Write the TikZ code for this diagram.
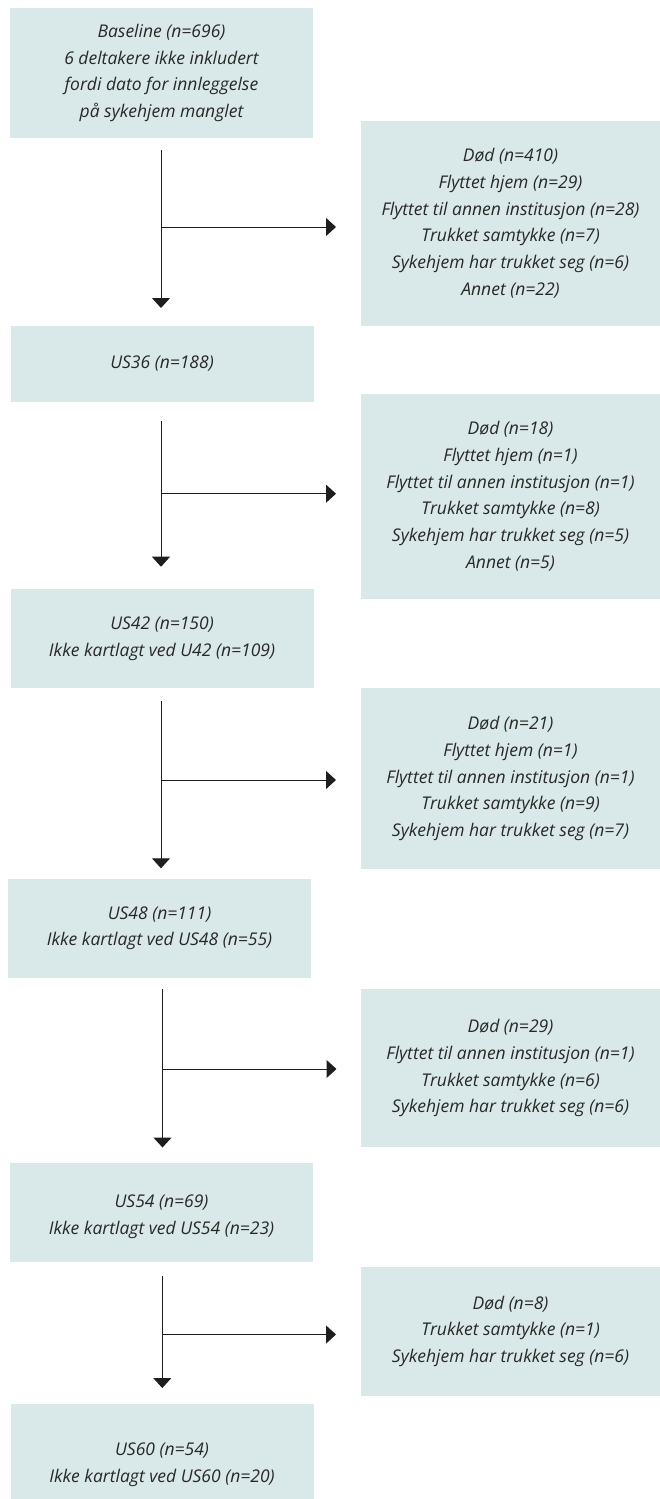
\documentclass[tikz,border=0pt]{standalone}
\usepackage{fontspec}
\setmainfont{Open Sans}
\usetikzlibrary{arrows.meta}
\definecolor{boxfill}{RGB}{217,232,232}
\definecolor{txt}{RGB}{40,40,40}
\definecolor{arr}{RGB}{30,30,30}
\tikzset{
  x=1pt, y=-1pt,
  flowbox/.style={rectangle, fill=boxfill, inner sep=0pt, align=center, text=txt,
    font=\fontsize{17.5}{26.7}\selectfont\itshape},
  leftbox/.style={flowbox, minimum width=303pt},
  rightbox/.style={flowbox, minimum width=299pt},
  flowarrow/.style={draw=arr, line width=1pt, -{Triangle[width=18pt,length=10pt]}}
}
\begin{document}
\begin{tikzpicture}
\clip (0,0) rectangle (660,1499);
\fill[white] (0,0) rectangle (660,1499);

\node[leftbox, minimum height=129.7pt] (b0) at (161.5,72.9) {Baseline (n=696)\\6 deltakere ikke inkludert\\fordi dato for innleggelse\\på sykehjem manglet};
\node[rightbox, minimum height=205pt] (r1) at (510.5,223.2) {Død (n=410)\\Flyttet hjem (n=29)\\Flyttet til annen institusjon (n=28)\\Trukket samtykke (n=7)\\Sykehjem har trukket seg (n=6)\\Annet (n=22)};
\node[leftbox, minimum height=75.7pt] (b1) at (162,363.9) {US36 (n=188)};
\node[rightbox, minimum height=204.5pt] (r2) at (510.5,496.3) {Død (n=18)\\Flyttet hjem (n=1)\\Flyttet til annen institusjon (n=1)\\Trukket samtykke (n=8)\\Sykehjem har trukket seg (n=5)\\Annet (n=5)};
\node[leftbox, minimum height=98.7pt] (b2) at (162,638.4) {US42 (n=150)\\Ikke kartlagt ved U42 (n=109)};
\node[rightbox, minimum height=181.6pt] (r3) at (510.5,778.5) {Død (n=21)\\Flyttet hjem (n=1)\\Flyttet til annen institusjon (n=1)\\Trukket samtykke (n=9)\\Sykehjem har trukket seg (n=7)};
\node[leftbox, minimum height=98.5pt] (b3) at (159.5,928.3) {US48 (n=111)\\Ikke kartlagt ved US48 (n=55)};
\node[rightbox, minimum height=158.3pt] (r4) at (510.5,1068.2) {Død (n=29)\\Flyttet til annen institusjon (n=1)\\Trukket samtykke (n=6)\\Sykehjem har trukket seg (n=6)};
\node[leftbox, minimum height=107pt] (b4) at (161.5,1216.5) {US54 (n=69)\\Ikke kartlagt ved US54 (n=23)};
\fill[white] (0,1262) rectangle (330,1275);
\node[rightbox, minimum height=128.7pt] (r5) at (510.5,1331.4) {Død (n=8)\\Trukket samtykke (n=1)\\Sykehjem har trukket seg (n=6)};
\node[leftbox, minimum height=121pt] (b5) at (162,1464.5) {US60 (n=54)\\Ikke kartlagt ved US60 (n=20)};

% connectors
\coordinate (a1t) at (161,150);   \coordinate (a1b) at (161,308);
\coordinate (a1m) at (161,227);   \coordinate (a1r) at (336,227);
\coordinate (a2t) at (161,421);   \coordinate (a2b) at (161,566.7);
\coordinate (a2m) at (161,493.7); \coordinate (a2r) at (336,493.7);
\coordinate (a3t) at (161,701);   \coordinate (a3b) at (161,868.3);
\coordinate (a3m) at (161,780);   \coordinate (a3r) at (336,780);
\coordinate (a4t) at (162.5,989.3); \coordinate (a4b) at (162.5,1147.5);
\coordinate (a4m) at (162.5,1069);  \coordinate (a4r) at (336.5,1069);
\coordinate (a5t) at (162.3,1275.5); \coordinate (a5b) at (162.3,1388);
\coordinate (a5m) at (162.3,1334.5); \coordinate (a5r) at (336,1334.5);

\draw[flowarrow] (a1t) -- (a1b);
\draw[flowarrow] (a1m) -- (a1r);
\draw[flowarrow] (a2t) -- (a2b);
\draw[flowarrow] (a2m) -- (a2r);
\draw[flowarrow] (a3t) -- (a3b);
\draw[flowarrow] (a3m) -- (a3r);
\draw[flowarrow] (a4t) -- (a4b);
\draw[flowarrow] (a4m) -- (a4r);
\draw[flowarrow] (a5t) -- (a5b);
\draw[flowarrow] (a5m) -- (a5r);
\end{tikzpicture}
\end{document}
